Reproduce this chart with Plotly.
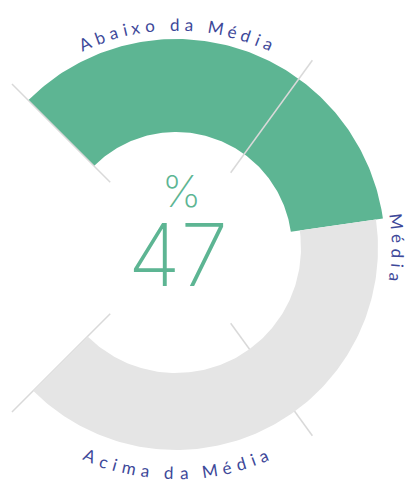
import numpy as np
import plotly.graph_objects as go

# data
value = 47
band_labels = ["Abaixo da Média", "Média", "Acima da Média"]
band_edges = [0, 30, 70, 100]

# style / geometry (pixels, figure is 411 x 482)
W, H = 411, 482
CX, CY = 176, 248
START, SPAN = 135, 270          # gauge starts upper-left, runs clockwise
GREEN = "#5db593"
GREY = "#e5e5e5"
TICK = "#d9d9d9"
NAVY = "#3d4899"
GREEN_R = (116, 209)
GREY_R = (125, 202)
TICK_R = (93, 232)
LABEL_ANGLES = [90, 0, -90]
LABEL_R = [224, 222, 225]
LABEL_OUT = [True, True, False]

CHAR_W = {"A": .68, "b": .58, "a": .51, "i": .24, "x": .50, "o": .58, " ": .26,
          "d": .58, "M": .87, "é": .53, "c": .47, "m": .86}


def ang(p):
    return START - SPAN * p / 100.0


def band(p0, p1, r0, r1, color):
    t = np.radians(np.linspace(ang(p0), ang(p1), 150))
    xs = np.concatenate([CX + r1 * np.cos(t), CX + r0 * np.cos(t[::-1])])
    ys = np.concatenate([CY - r1 * np.sin(t), CY - r0 * np.sin(t[::-1])])
    return go.Scatter(x=np.append(xs, xs[0]), y=np.append(ys, ys[0]), mode="lines",
                      fill="toself", fillcolor=color, line=dict(width=0),
                      hoverinfo="skip", showlegend=False)


def curved(text, mid, r, outward, size=17, track=5.2):
    # one annotation per letter, turned to follow the arc
    widths = [CHAR_W.get(c, .55) * size for c in text]
    total = sum(widths) + track * (len(text) - 1)
    out = []
    s = 0
    for c, w in zip(text, widths):
        centre = s + w / 2
        off = np.degrees((total / 2 - centre) / r)
        phi = mid + off if outward else mid - off
        s += w + track
        if c == " ":
            continue
        rot = 90 - phi if outward else -90 - phi
        out.append(dict(x=CX + r * np.cos(np.radians(phi)), y=CY - r * np.sin(np.radians(phi)),
                        xref="x", yref="y", text=c, showarrow=False, textangle=rot,
                        borderpad=0,
                        font=dict(family="Lato", size=size, color=NAVY)))
    return out


fig = go.Figure()
fig.add_trace(band(0, value, GREEN_R[0], GREEN_R[1], GREEN))

for e in band_edges:
    t = np.radians(ang(e))
    fig.add_trace(go.Scatter(x=[CX + TICK_R[0] * np.cos(t), CX + TICK_R[1] * np.cos(t)],
                             y=[CY - TICK_R[0] * np.sin(t), CY - TICK_R[1] * np.sin(t)],
                             mode="lines", line=dict(color=TICK, width=1.5),
                             hoverinfo="skip", showlegend=False))

fig.add_trace(band(value, 100, GREY_R[0], GREY_R[1], GREY))

annotations = []
for lab, a, r, o in zip(band_labels, LABEL_ANGLES, LABEL_R, LABEL_OUT):
    annotations += curved(lab, a, r, o)

annotations.append(dict(x=181, y=191, xref="x", yref="y", text="%", showarrow=False,
                        font=dict(family="Inter", size=44, color=GREEN, weight=200)))
annotations.append(dict(x=178, y=255, xref="x", yref="y", text=str(value), showarrow=False,
                        font=dict(family="Inter", size=86, color=GREEN, weight=200)))

fig.update_layout(
    width=W, height=H,
    margin=dict(l=0, r=0, t=0, b=0),
    paper_bgcolor="white", plot_bgcolor="white",
    xaxis=dict(range=[0, W], visible=False, fixedrange=True),
    yaxis=dict(range=[H, 0], visible=False, fixedrange=True),
    annotations=annotations,
    showlegend=False,
)

fig.write_html("out.html", config={"displayModeBar": False},
               post_script="document.body.style.margin='0';")
